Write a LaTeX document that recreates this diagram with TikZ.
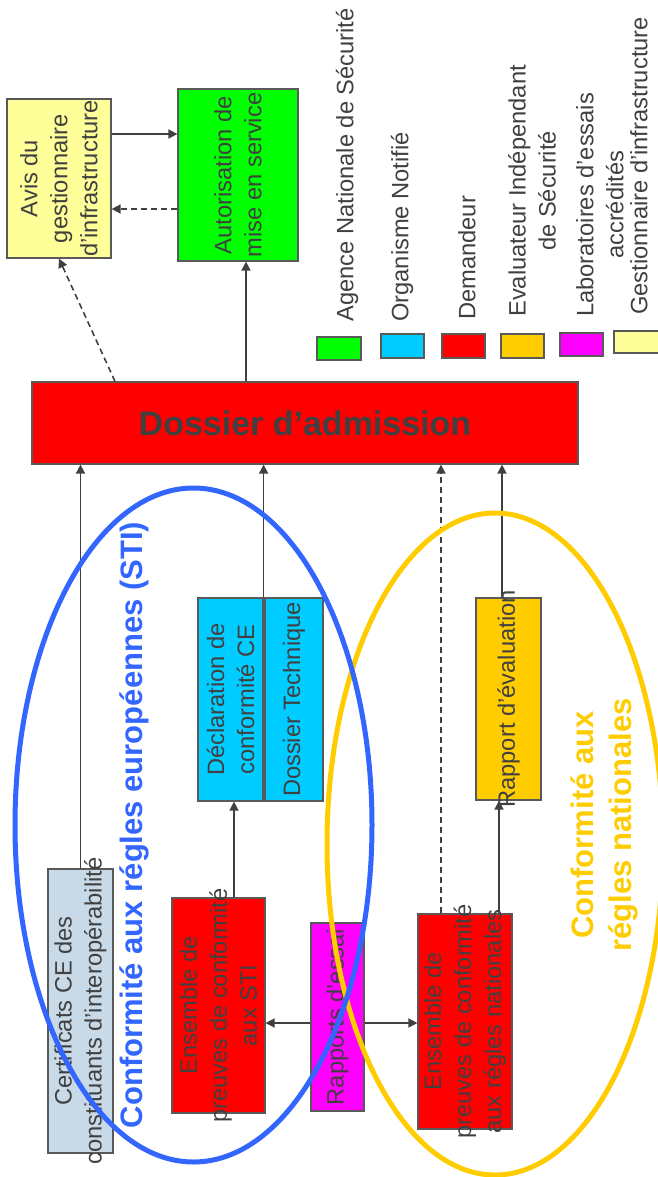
\documentclass[tikz,border=0pt]{standalone}
\usepackage{fontspec}
\setmainfont{Liberation Sans}
\usetikzlibrary{arrows.meta}
\definecolor{txtgray}{HTML}{404040}
\definecolor{boxline}{HTML}{595959}
\definecolor{linegray}{HTML}{404040}
\definecolor{avisyellow}{HTML}{FFFF99}
\definecolor{ansgreen}{HTML}{00FF00}
\definecolor{oncyan}{HTML}{00CCFF}
\definecolor{demred}{HTML}{FF0000}
\definecolor{eisgold}{HTML}{FFCC00}
\definecolor{labmag}{HTML}{FF00FF}
\definecolor{certblue}{HTML}{C8DAE8}
\definecolor{stiblue}{HTML}{3366FF}

\begin{document}
\begin{tikzpicture}[x=1pt,y=-1pt,
  box/.style={draw=boxline,line width=1.2pt,inner sep=0pt},
  boxtxt/.style={rotate=90,align=center,text=txtgray,inner sep=0pt,font=\fontsize{23.7}{30}\selectfont},
  legtxt/.style={boxtxt,anchor=west},
  arr/.style={draw=linegray,line width=1.6pt,-{Triangle[length=9pt,width=9pt]}},
  darr/.style={arr,dash pattern=on 6pt off 4pt},
  ring/.style={line width=5pt},
  bigtxt/.style={rotate=90,align=center,font=\fontsize{31}{38}\selectfont\bfseries}]
  \useasboundingbox (0,0) rectangle (657,1177);
  \node[box,fill=avisyellow,minimum width=104pt,minimum height=159pt,
    label={[boxtxt]center:{Avis du\\gestionnaire\\d’infrastructure}}] (avis) at (59,178.5) {};
  \node[box,fill=ansgreen,minimum width=120pt,minimum height=172pt,
    label={[boxtxt]center:{Autorisation de\\mise en service}}] (autor) at (238,175) {};
  \node[box,fill=demred,minimum width=546pt,minimum height=82pt,text=txtgray,
    font=\fontsize{34}{40}\selectfont\bfseries] (doss) at (305,423) {Dossier d’admission};
  \node[box,fill=certblue,minimum width=65pt,minimum height=284pt,
    label={[boxtxt]center:{Certificats CE des\\constituants d’interopérabilité}}] (cert) at (80.5,1011) {};
  \node[box,fill=oncyan,minimum width=65pt,minimum height=203pt,
    label={[boxtxt]center:{Déclaration de\\conformité CE}}] (decl) at (230.5,699.5) {};
  \node[box,fill=oncyan,minimum width=58pt,minimum height=203pt,
    label={[boxtxt]center:{Dossier Technique}}] (dtech) at (294,699.5) {};
  \node[box,fill=demred,minimum width=93pt,minimum height=215pt,
    label={[boxtxt]center:{Ensemble de\\preuves de conformité\\aux STI}}] (ensSTI) at (218.5,1005.5) {};
  \node[box,fill=labmag,minimum width=53pt,minimum height=188pt,
    label={[boxtxt]center:{Rapports d’essai}}] (rapE) at (337.5,1017) {};
  \node[box,fill=demred,minimum width=94pt,minimum height=215pt,
    label={[boxtxt]center:{Ensemble de\\preuves de conformité\\aux régles nationales}}] (ensNat) at (465,1021.5) {};
  \node[box,fill=eisgold,minimum width=65pt,minimum height=202pt,
    label={[boxtxt]center:{Rapport d’évaluation}}] (rapEv) at (508.5,699) {};

  \node[box,fill=ansgreen,minimum width=44pt,minimum height=23pt] (kAns) at (339,348.5) {};
  \node[box,fill=oncyan,minimum width=43pt,minimum height=24pt] (kOn) at (402.5,346) {};
  \node[box,fill=demred,minimum width=43pt,minimum height=24pt] (kDem) at (463.5,346) {};
  \node[box,fill=eisgold,minimum width=43pt,minimum height=24pt] (kEis) at (522.5,346) {};
  \node[box,fill=labmag,minimum width=43pt,minimum height=23pt] (kLab) at (581.5,344.5) {};
  \node[box,fill=avisyellow,minimum width=46pt,minimum height=22pt] (kGi) at (637,342) {};
  \node[legtxt] (tAns) at (347,322) {Agence Nationale de Sécurité};
  \node[legtxt] (tOn) at (402,322) {Organisme Notifié};
  \node[legtxt] (tDem) at (467,320) {Demandeur};
  \node[legtxt] (tEis) at (532,317) {Evaluateur Indépendant\\de Sécurité};
  \node[legtxt] (tLab) at (600,317) {Laboratoires d’essais\\accrédités};
  \node[legtxt] (tGi) at (639,315) {Gestionnaire d’infrastructure};

  \draw[arr] ([yshift=44.5pt]avis.east) -- ([yshift=44.5pt]avis.east -| autor.west);
  \draw[darr] ([yshift=-34pt]autor.west) -- ([yshift=-34pt]autor.west -| avis.east);
  \draw[arr] ([xshift=-59pt]doss.north) -- ([xshift=-59pt]doss.north |- autor.south);
  \draw[darr] ([xshift=-190pt]doss.north) -- (avis.south);
  \draw[arr] (cert.north) -- (cert.north |- doss.south);
  \draw[arr] (decl.north east) -- (decl.north east |- doss.south);
  \draw[arr] ([xshift=15.5pt]ensSTI.north) -- ([xshift=15.5pt]ensSTI.north |- decl.south);
  \draw[arr] ([yshift=-6pt]rapE.west) -- ([yshift=-6pt]rapE.west -| ensSTI.east);
  \draw[arr] ([yshift=-6pt]rapE.east) -- ([yshift=-6pt]rapE.east -| ensNat.west);
  \draw[darr] ([xshift=-24pt]ensNat.north) -- ([xshift=-24pt]ensNat.north |- doss.south);
  \draw[arr] ([xshift=34pt]ensNat.north) -- ([xshift=34pt]ensNat.north |- rapEv.south);
  \draw[arr] ([xshift=-6.5pt]rapEv.north) -- ([xshift=-6.5pt]rapEv.north |- doss.south);

  \draw[ring,draw=eisgold] (495,844) ellipse [x radius=168pt,y radius=331pt];
  \draw[ring,draw=stiblue] (193.5,825) ellipse [x radius=178.5pt,y radius=337pt];
  \node[bigtxt,text=stiblue] (tSti) at (134,825) {Conformité aux régles européennes (STI)};
  \node[bigtxt,text=eisgold] (tNat) at (604,825) {Conformité aux\\régles nationales};
\end{tikzpicture}
\end{document}
